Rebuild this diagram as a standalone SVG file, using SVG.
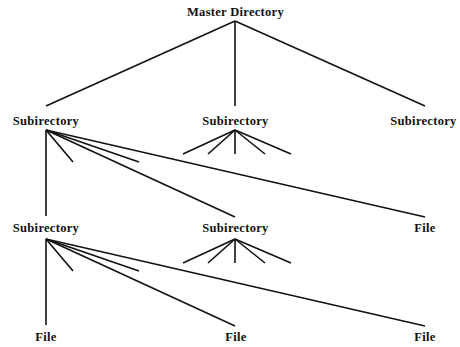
<svg xmlns="http://www.w3.org/2000/svg" width="460" height="347" viewBox="0 0 460 347">
<style>
text{font-family:"Liberation Serif","Times New Roman",serif;font-weight:bold;font-size:12.5px;fill:#111;text-anchor:middle;letter-spacing:0.3px}
.c line{stroke:#111;stroke-width:1.6;stroke-linecap:butt}
</style>
<rect width="460" height="347" fill="#fff"/>
<g class="c" id="connectors">
<line x1="235" y1="21" x2="46" y2="106"/>
<line x1="235" y1="21" x2="235" y2="106"/>
<line x1="235" y1="21" x2="425" y2="106"/>
<line x1="46" y1="130" x2="46" y2="216"/>
<line x1="46" y1="130" x2="73" y2="162"/>
<line x1="46" y1="130" x2="139" y2="162"/>
<line x1="46" y1="130" x2="235" y2="217"/>
<line x1="46" y1="130" x2="425" y2="217"/>
<line x1="235" y1="130" x2="183" y2="154"/>
<line x1="235" y1="130" x2="208" y2="154"/>
<line x1="235" y1="130" x2="235" y2="154"/>
<line x1="235" y1="130" x2="265" y2="154"/>
<line x1="235" y1="130" x2="291" y2="154"/>
<line x1="46" y1="239" x2="46" y2="325"/>
<line x1="46" y1="239" x2="73" y2="271"/>
<line x1="46" y1="239" x2="139" y2="271"/>
<line x1="46" y1="239" x2="235" y2="326"/>
<line x1="46" y1="239" x2="425" y2="326"/>
<line x1="235" y1="239" x2="183" y2="263"/>
<line x1="235" y1="239" x2="208" y2="263"/>
<line x1="235" y1="239" x2="235" y2="263"/>
<line x1="235" y1="239" x2="265" y2="263"/>
<line x1="235" y1="239" x2="291" y2="263"/>
</g>
<g id="master"><text x="235.5" y="16">Master Directory</text></g>
<g id="sub1"><text x="46" y="125">Subirectory</text></g>
<g id="sub2"><text x="235.5" y="125">Subirectory</text></g>
<g id="sub3"><text x="423.5" y="125">Subirectory</text></g>
<g id="sub4"><text x="46" y="232">Subirectory</text></g>
<g id="sub5"><text x="235.5" y="232">Subirectory</text></g>
<g id="file1"><text x="425" y="232">File</text></g>
<g id="file2"><text x="46" y="341">File</text></g>
<g id="file3"><text x="236" y="341">File</text></g>
<g id="file4"><text x="425" y="341">File</text></g>
</svg>
